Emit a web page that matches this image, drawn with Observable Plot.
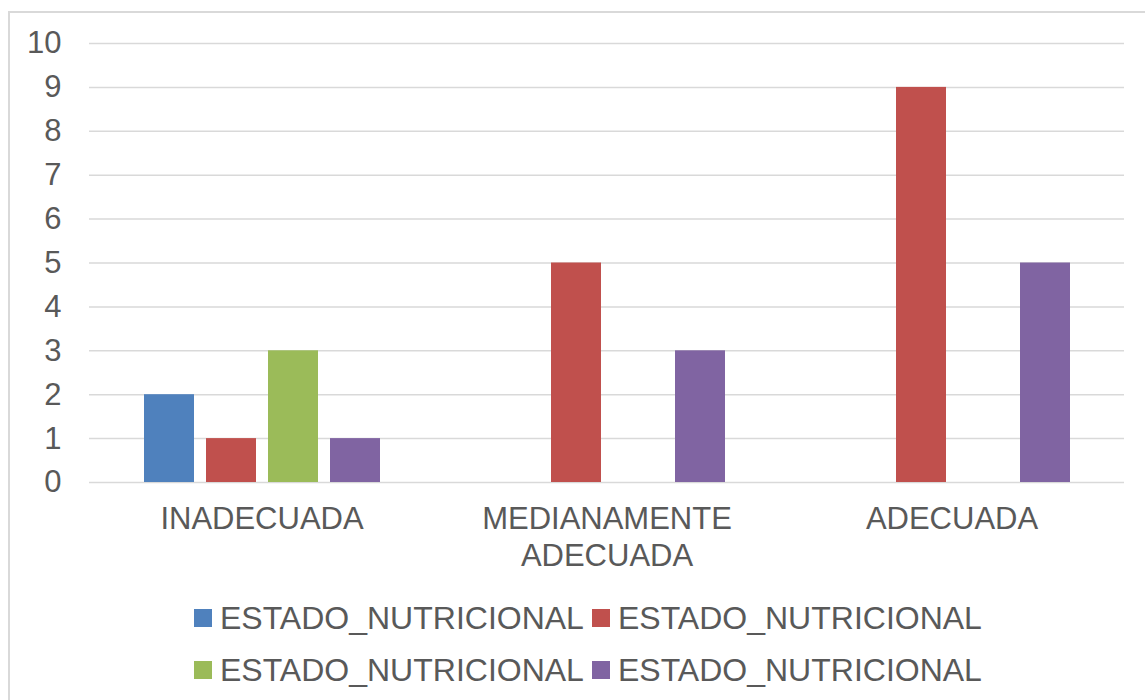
<!DOCTYPE html>
<html>
<head>
<meta charset="utf-8">
<script src="https://cdn.jsdelivr.net/npm/d3@7"></script>
<script src="https://cdn.jsdelivr.net/npm/@observablehq/plot@0.6"></script>
<style>
  html, body { margin: 0; padding: 0; background: #fff; overflow: hidden; }
  body { width: 1145px; height: 700px; position: relative; font-family: "Liberation Sans", Arial, sans-serif; }
  #frame { position: absolute; left: 8px; top: 11px; width: 1160px; height: 720px; border: 2px solid #d9d9d9; box-sizing: border-box; }
  #chart { position: absolute; left: 0; top: 0; }
  #legend { position: absolute; left: 194px; top: 592px; display: grid; grid-template-columns: 398px 398px; grid-auto-rows: 52px; }
  .item { display: flex; align-items: center; font-size: 32px; color: #595959; white-space: nowrap; }
  .sw { width: 18px; height: 18px; margin-right: 8px; flex: none; }
</style>
</head>
<body>
<div id="frame"></div>
<div id="chart"></div>
<div id="legend"></div>
<script>
const categories = ["INADECUADA", "MEDIANAMENTE\nADECUADA", "ADECUADA"];
const seriesKeys = ["s1", "s2", "s3", "s4"];
const seriesNames = ["ESTADO_NUTRICIONAL", "ESTADO_NUTRICIONAL", "ESTADO_NUTRICIONAL", "ESTADO_NUTRICIONAL"];
const seriesColors = ["#4F81BD", "#C0504D", "#9BBB59", "#8064A2"];
const s1 = [2, 0, 0];
const s2 = [1, 5, 9];
const s3 = [3, 0, 0];
const s4 = [1, 3, 5];
const yTicks = [0, 1, 2, 3, 4, 5, 6, 7, 8, 9, 10];

const seriesValues = [s1, s2, s3, s4];
const data = [];
categories.forEach((c, i) => {
  seriesKeys.forEach((k, j) => {
    data.push({cat: c, series: k, value: seriesValues[j][i]});
  });
});

const chart = Plot.plot({
  width: 1145,
  height: 590,
  marginLeft: 88,
  marginRight: 20,
  marginTop: 43,
  marginBottom: 108,
  style: {color: "#595959", fontFamily: "'Liberation Sans', Arial, sans-serif", background: "transparent"},
  fx: {domain: categories, paddingInner: 0, paddingOuter: 0, label: null, axis: null},
  x: {domain: seriesKeys, paddingInner: 0.2, paddingOuter: 0.857, axis: null},
  y: {domain: [0, 10], axis: null},
  color: {domain: seriesKeys, range: seriesColors},
  marks: [
    Plot.gridY(yTicks, {stroke: "#d9d9d9", strokeOpacity: 1, strokeWidth: 1.5}),
    Plot.barY(data, {fx: "cat", x: "series", y: "value", fill: "series"}),
    Plot.axisY(yTicks, {tickSize: 0, tickPadding: 28, fontSize: 31, fill: "#595959", label: null}),
    Plot.axisFx({anchor: "bottom", tickSize: 0, tickPadding: 20, fontSize: 31, fill: "#595959", lineHeight: 1.2, label: null, textAnchor: "middle", lineAnchor: "top"})
  ]
});
document.getElementById("chart").appendChild(chart);

const legend = document.getElementById("legend");
seriesKeys.forEach((k, j) => {
  const item = document.createElement("div");
  item.className = "item";
  const sw = document.createElement("span");
  sw.className = "sw";
  sw.style.background = seriesColors[j];
  const t = document.createElement("span");
  t.textContent = seriesNames[j];
  item.appendChild(sw);
  item.appendChild(t);
  legend.appendChild(item);
});
</script>
</body>
</html>
